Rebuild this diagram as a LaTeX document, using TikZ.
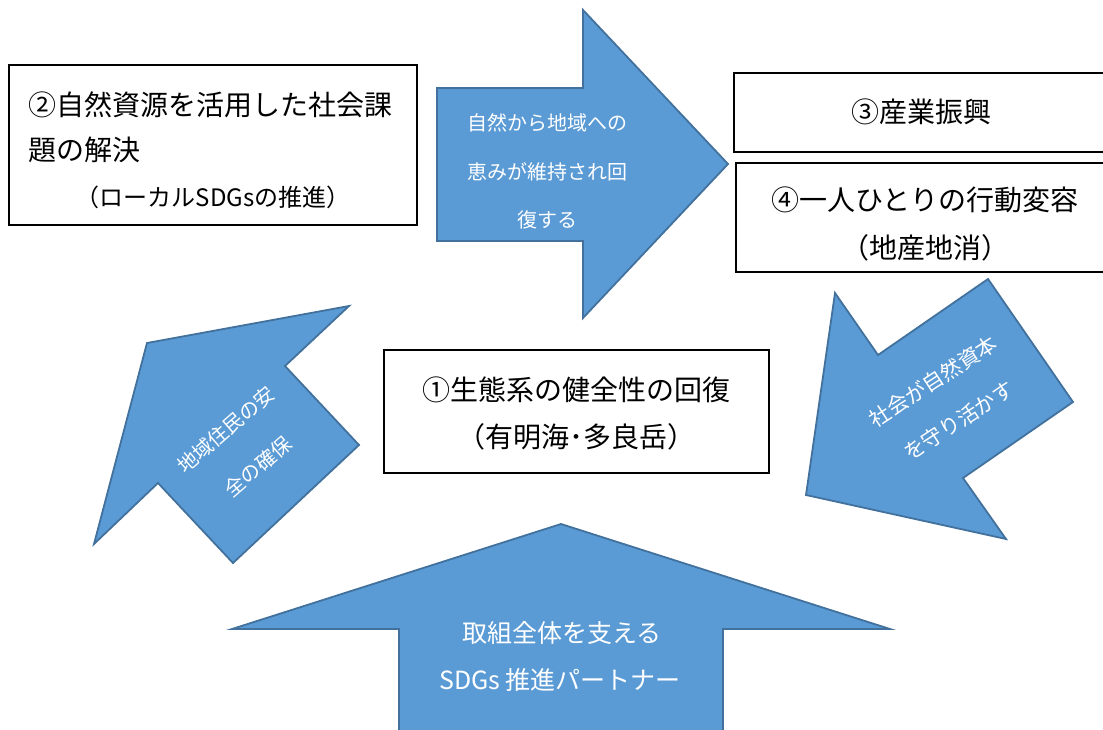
\documentclass[tikz,border=0pt]{standalone}
\usepackage{fontspec}
\setmainfont{Noto Sans CJK JP}
\definecolor{arrowfill}{HTML}{5B9BD5}
\definecolor{arrowline}{HTML}{41719C}
\tikzset{
  bigarrow/.style={fill=arrowfill, draw=arrowline, line width=1.8pt, line join=miter},
  boxstyle/.style={draw=black, line width=1.3pt, fill=white},
  blacktext/.style={inner sep=0pt, text=black, font=\fontsize{28}{30}\selectfont},
  subtext/.style={inner sep=0pt, text=black, font=\fontsize{24}{26}\selectfont},
  whitetext/.style={inner sep=0pt, text=white, font=\fontsize{20}{24}\selectfont},
}
\begin{document}
\begin{tikzpicture}[x=1pt,y=-1pt]
\useasboundingbox (0,0) rectangle (1103,729);
\clip (0,0) rectangle (1103,729);
% arrows
\draw[bigarrow] (437,88) -- (583,88) -- (583,10) -- (728,164) -- (583,318) -- (583,241) -- (437,241) -- cycle;
\draw[bigarrow] (988,279) -- (878,355) -- (835,293) -- (806,495) -- (1006,539) -- (963,478) -- (1073,402) -- cycle;
\draw[bigarrow] (147,343) -- (349,306) -- (285,366) -- (359,445) -- (233,563) -- (158,483) -- (94,544) -- cycle;
\draw[bigarrow] (561,524) -- (890,629) -- (723,629) -- (723,740) -- (399,740) -- (399,629) -- (232,629) -- cycle;
% boxes
\draw[boxstyle] (9,65) rectangle (417,225);
\draw[boxstyle] (734,73) rectangle (1115,152);
\draw[boxstyle] (736,163) rectangle (1115,272);
\draw[boxstyle] (384,350) rectangle (769,473);
% box texts
\node[blacktext, anchor=west] (b2a) at (28,105) {②自然資源を活用した社会課};
\node[blacktext, anchor=west] (b2b) at (28,150) {題の解決};
\node[subtext] (b2c) at (213,197) {（ローカルSDGsの推進）};
\node[blacktext] (b3) at (921,112) {③産業振興};
\node[blacktext] (b4a) at (925,200) {④一人ひとりの行動変容};
\node[blacktext] (b4b) at (925,248) {（地産地消）};
\node[blacktext] (b1a) at (576,390) {①生態系の健全性の回復};
\node[blacktext] (b1b) at (576,437) {（有明海･多良岳）};
% arrow texts
\node[whitetext] (t1) at (547,123) {自然から地域への};
\node[whitetext] (t2) at (547,172) {恵みが維持され回};
\node[whitetext] (t3) at (547,220) {復する};
\node[whitetext, rotate=33, align=center, font=\fontsize{21}{47}\selectfont] (r1) at (946,401) {社会が自然資本\\を守り活かす};
\node[whitetext, rotate=41, align=center, font=\fontsize{20}{49}\selectfont] (l1) at (242,448) {地域住民の安\\全の確保};
\node[whitetext, font=\fontsize{25}{28}\selectfont] (u1) at (562,633) {取組全体を支える};
\node[whitetext, font=\fontsize{25}{28}\selectfont] (u2) at (560,680) {SDGs 推進パートナー};
\end{tikzpicture}
\end{document}
